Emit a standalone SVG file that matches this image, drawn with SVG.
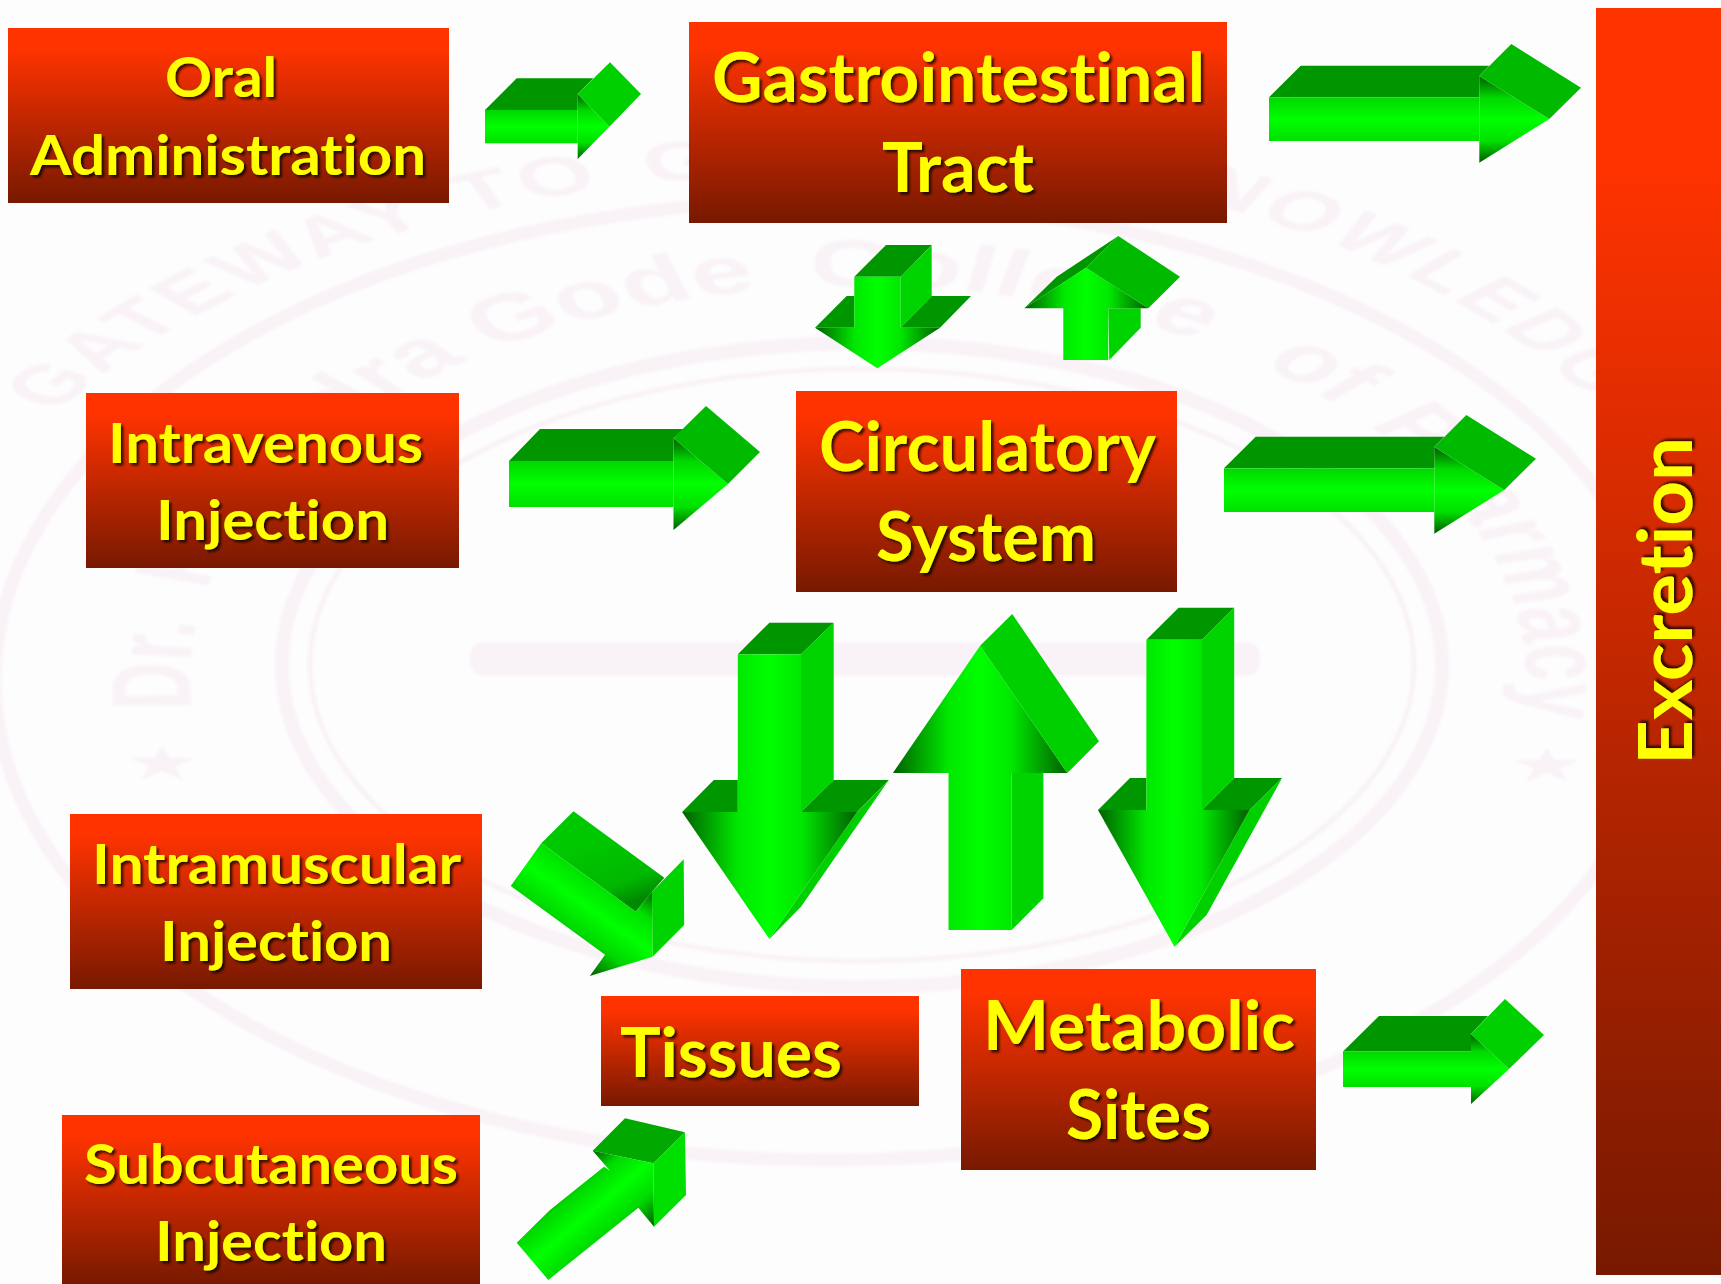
<svg xmlns="http://www.w3.org/2000/svg" width="1721" height="1284" viewBox="0 0 1721 1284">
<style>
.wm{fill:none;stroke:#f9f2f6}
.wt{fill:#f9f2f6;font-family:"Liberation Sans",sans-serif;font-weight:700}
.wo{font-size:55px;letter-spacing:3px}
.wi{font-size:66px}
.box{fill:url(#boxg)}
.t{fill:#ffff00;font-family:Lato,"Open Sans",sans-serif;font-weight:700;font-variant-ligatures:none;filter:url(#ts)}
.s{font-size:56px}
.b{font-size:68px}
.top{fill:#009600}
.ht{fill:#00ba00}
.ht2{fill:#00d000}
.sd{fill:#00d400}
.fh{fill:url(#fh)}
.hh{fill:url(#hh)}
.fv{fill:url(#fv)}
.hv{fill:url(#hv)}
</style>
<defs>
<linearGradient id="boxg" x1="0" y1="0" x2="0" y2="1"><stop offset="0.12" stop-color="#ff3300"/><stop offset="1" stop-color="#771900"/></linearGradient>
<linearGradient id="fh" x1="0" y1="0" x2="0" y2="1"><stop offset="0" stop-color="#00d800"/><stop offset="0.5" stop-color="#00ff00"/><stop offset="1" stop-color="#00e000"/></linearGradient>
<linearGradient id="hh" x1="0" y1="0" x2="0" y2="1"><stop offset="0" stop-color="#005c00"/><stop offset="0.25" stop-color="#00d800"/><stop offset="0.5" stop-color="#00ff00"/><stop offset="0.75" stop-color="#00e000"/><stop offset="1" stop-color="#005c00"/></linearGradient>
<linearGradient id="fv" x1="0" y1="0" x2="1" y2="0"><stop offset="0" stop-color="#00e800"/><stop offset="0.5" stop-color="#00ff00"/><stop offset="1" stop-color="#00e800"/></linearGradient>
<linearGradient id="hv" x1="0" y1="0" x2="1" y2="0"><stop offset="0" stop-color="#006000"/><stop offset="0.32" stop-color="#00e800"/><stop offset="0.5" stop-color="#00ff00"/><stop offset="0.68" stop-color="#00e800"/><stop offset="1" stop-color="#006000"/></linearGradient>
<linearGradient id="d1" gradientUnits="userSpaceOnUse" x1="554.2" y1="824" x2="494.5" y2="909.6"><stop offset="0" stop-color="#006c00"/><stop offset="0.22" stop-color="#00e000"/><stop offset="0.47" stop-color="#00ff00"/><stop offset="0.72" stop-color="#00d800"/><stop offset="1" stop-color="#005c00"/></linearGradient>
<linearGradient id="d1t" gradientUnits="userSpaceOnUse" x1="600" y1="835" x2="625" y2="905"><stop offset="0" stop-color="#00c800"/><stop offset="0.7" stop-color="#00b800"/><stop offset="1" stop-color="#008800"/></linearGradient>
<linearGradient id="d2" gradientUnits="userSpaceOnUse" x1="503" y1="1226.7" x2="566.3" y2="1301.3"><stop offset="0" stop-color="#005c00"/><stop offset="0.215" stop-color="#00d800"/><stop offset="0.465" stop-color="#00ff00"/><stop offset="0.715" stop-color="#00dc00"/><stop offset="1" stop-color="#005c00"/></linearGradient>
<filter id="ts" x="-10%" y="-20%" width="120%" height="140%"><feDropShadow dx="2.5" dy="2.5" stdDeviation="1.2" flood-color="#000000" flood-opacity="0.75"/></filter>
<filter id="blur" x="-5%" y="-5%" width="110%" height="110%"><feGaussianBlur stdDeviation="1.6"/></filter>
<path id="arcOuter" d="M -496 0 A 496 496 0 0 1 496 0"/>
<path id="arcInner" d="M -389 55 A 393 393 0 1 1 389 55"/>
</defs>
<rect width="1721" height="1284" fill="#fdfdfe"/>
<g id="watermark" filter="url(#blur)">
<ellipse class="wm" cx="830" cy="680" rx="835" ry="480" stroke-width="13"/>
<ellipse class="wm" cx="862" cy="665" rx="580" ry="322" stroke-width="14"/>
<ellipse class="wm" cx="862" cy="665" rx="552" ry="296" stroke-width="5"/>
<rect x="470" y="642" width="790" height="34" rx="14" fill="#f9f2f6"/>
<polygon fill="#f9f2f6" points="162,746 170,758 196,758 175,766 183,780 162,771 141,780 149,766 128,758 154,758"/>
<polygon fill="#f9f2f6" points="1547,748 1555,760 1581,760 1560,768 1568,782 1547,773 1526,782 1534,768 1513,760 1539,760"/>
<g transform="translate(820 670) scale(1.8 1)">
<text class="wt wo"><textPath href="#arcOuter" startOffset="270">GATEWAY</textPath></text>
<text class="wt wo"><textPath href="#arcOuter" startOffset="578">TO</textPath></text>
<text class="wt wo"><textPath href="#arcOuter" startOffset="683">GOOD</textPath></text>
</g>
<g transform="translate(820 650) scale(1.8 1)">
<text class="wt wo"><textPath href="#arcOuter" startOffset="945">KNOWLEDGE</textPath></text>
</g>
<g transform="translate(858 680) scale(1.7 1)">
<text class="wt wi"><textPath href="#arcInner" startOffset="26">Dr.</textPath></text>
<text class="wt wi"><textPath href="#arcInner" startOffset="146">Rajendra</textPath></text>
<text class="wt wi"><textPath href="#arcInner" startOffset="446">Gode</textPath></text>
<text class="wt wi"><textPath href="#arcInner" startOffset="645">College</textPath></text>
<text class="wt wi"><textPath href="#arcInner" startOffset="927">of</textPath></text>
<text class="wt wi"><textPath href="#arcInner" startOffset="1014">Pharmacy</textPath></text>
</g>
</g>
<g id="connectors">
<g id="arrow-oral-gi">
<polygon class="top" points="485,110 516.7,78.3 593.3,78.3 577.7,94 577.7,110"/>
<polygon class="hh" points="577.7,94 609.3,126.7 577.7,159"/>
<rect class="fh" x="485" y="110" width="92.7" height="33.3"/>
<polygon class="ht2" points="577.7,94 610,62.3 641,94 609.3,126.7"/>
</g>
<g id="arrow-gi-excretion">
<polygon class="top" points="1269,97.3 1300.7,65.7 1489.3,65.7 1479.3,76 1479.3,97.3"/>
<polygon class="hh" points="1479.3,76 1549.3,119 1479.3,162.7"/>
<rect class="fh" x="1269" y="97.3" width="210.3" height="43.7"/>
<polygon class="ht" points="1479.3,76 1511.3,44 1581,87.7 1549.3,119"/>
</g>
<g id="arrow-iv-circ">
<polygon class="top" points="509,461 540,429 684,429 673.5,438 673.5,461"/>
<polygon class="hh" points="673.5,438 728,484 673.5,530"/>
<rect class="fh" x="509" y="461" width="164.5" height="46"/>
<polygon class="ht" points="673.5,438 706,406 760,452 728,484"/>
</g>
<g id="arrow-circ-excretion" transform="translate(-45 371)">
<polygon class="top" points="1269,97.3 1300.7,65.7 1489.3,65.7 1479.3,76 1479.3,97.3"/>
<polygon class="hh" points="1479.3,76 1549.3,119 1479.3,162.7"/>
<rect class="fh" x="1269" y="97.3" width="210.3" height="43.7"/>
<polygon class="ht" points="1479.3,76 1511.3,44 1581,87.7 1549.3,119"/>
</g>
<g id="arrow-metabolic-excretion">
<polygon class="top" points="1343,1051.5 1379,1016 1488,1016 1471,1034 1471,1051.5"/>
<polygon class="hh" points="1471,1034 1509,1069 1471,1104"/>
<rect class="fh" x="1343" y="1051.5" width="128" height="35.5"/>
<polygon class="ht2" points="1471,1034 1505,999 1544,1035 1509,1069"/>
</g>
<g id="arrow-gi-circ">
<polygon class="top" points="854.3,276.7 886,245 931.7,245 900.7,276.7"/>
<polygon class="sd" points="900.7,276.7 931.7,245 931.7,296 900.7,327.7"/>
<polygon class="top" points="815,327.7 846.7,296 854.3,296 854.3,327.7"/>
<polygon class="top" points="900.7,327.7 931.7,296 971,296 940,327.7"/>
<polygon class="hv" points="815,327.7 940,327.7 877.3,368.3"/>
<rect class="fv" x="854.3" y="276.7" width="46.4" height="51.5"/>
</g>
<g id="arrow-circ-gi">
<polygon class="sd" points="1108.3,308.3 1140.7,308.3 1140.7,327.7 1109.3,360"/>
<polygon class="top" points="1024.3,308.3 1056.7,276.7 1118.3,236 1086,267.7"/>
<polygon class="hv" points="1024.3,308.3 1086,267.7 1148.3,308.3"/>
<rect class="fv" x="1063.3" y="307.8" width="45" height="52.2"/>
<polygon class="ht" points="1086,267.7 1118.3,236 1180,276.7 1148.3,308.3"/>
</g>
<g id="arrow-circ-tissues">
<polygon class="top" points="737.8,654.3 769.4,622.7 833.7,622.7 801,654.3"/>
<polygon class="sd" points="801,654.3 833.7,622.7 833.7,780 801,812"/>
<polygon class="top" points="682.1,812 713.8,780 737.8,780 737.8,812"/>
<polygon class="top" points="801,812 833.7,780 888.8,780 857.1,812"/>
<polygon class="ht2" points="857.1,812 888.8,780 801,906.7 769.4,939"/>
<polygon class="hv" points="682.1,812 857.1,812 769.4,939"/>
<rect class="fv" x="737.8" y="654.3" width="63.2" height="158.2"/>
</g>
<g id="arrow-tissues-circ">
<polygon class="sd" points="1011.7,773 1043.4,773 1043.4,898.3 1011.7,930"/>
<polygon class="hv" points="892.9,773 980.1,645.7 1067.3,773"/>
<rect class="fv" x="948.5" y="772.5" width="63.2" height="157.5"/>
<polygon class="ht2" points="980.1,645.7 1012.2,614 1099,741.3 1067.3,773"/>
</g>
<g id="arrow-circ-metabolic">
<polygon class="top" points="1146.4,639.7 1178.6,607.7 1234.2,607.7 1202,639.7"/>
<polygon class="sd" points="1202,639.7 1234.2,607.7 1234.2,778 1202,810"/>
<polygon class="top" points="1098,810 1130,778 1146.4,778 1146.4,810"/>
<polygon class="top" points="1202,810 1234.2,778 1282.1,778 1249.5,810"/>
<polygon class="ht2" points="1249.5,810 1282.1,778 1206.6,915 1174.5,946.7"/>
<polygon class="hv" points="1098,810 1249.5,810 1174.5,946.7"/>
<rect class="fv" x="1146.4" y="639.7" width="55.6" height="170.8"/>
</g>
<g id="arrow-im-tissues">
<polygon fill="url(#d1t)" points="541.3,843.3 573.5,811.3 664.3,877.7 652,891.7 635.7,911.7"/>
<polygon class="sd" points="652,891.7 683.7,859.3 684.2,925 652.6,956.7"/>
<polygon fill="url(#d1)" points="510.7,886 541.3,843.3 635.7,911.7 652,891.7 652.6,956.7 589.8,976 605.1,954.7"/>
</g>
<g id="arrow-sc-tissues">
<polygon fill="#00a800" points="592.7,1150.7 625,1118.3 685,1132.3 653.3,1163.3"/>
<polygon fill="#00e000" points="653.3,1163.3 685,1132.3 686,1195 654,1226.7"/>
<polygon fill="url(#d2)" points="516.7,1242.7 550,1210 604,1166.7 610,1170.7 592.7,1150.7 653.3,1163.3 654,1226.7 638.3,1207.7 548.3,1280"/>
</g>
</g>
<g id="node-oral"><rect class="box" x="8" y="28" width="441" height="175"/>
<text class="t s" x="165" y="97" textLength="112" lengthAdjust="spacingAndGlyphs">Oral</text>
<text class="t s" x="30" y="175" textLength="396" lengthAdjust="spacingAndGlyphs">Administration</text></g>
<g id="node-gi"><rect class="box" x="689" y="22" width="538" height="201"/>
<text class="t b" x="712" y="102" textLength="493" lengthAdjust="spacingAndGlyphs">Gastrointestinal</text>
<text class="t b" x="882" y="192" textLength="152" lengthAdjust="spacingAndGlyphs">Tract</text></g>
<g id="node-iv"><rect class="box" x="86" y="393" width="373" height="175"/>
<text class="t s" x="108" y="463" textLength="315" lengthAdjust="spacingAndGlyphs">Intravenous</text>
<text class="t s" x="156" y="540" textLength="233" lengthAdjust="spacingAndGlyphs">Injection</text></g>
<g id="node-circ"><rect class="box" x="796" y="391" width="381" height="201"/>
<text class="t b" x="819" y="471" textLength="337" lengthAdjust="spacingAndGlyphs">Circulatory</text>
<text class="t b" x="876" y="561" textLength="220" lengthAdjust="spacingAndGlyphs">System</text></g>
<g id="node-im"><rect class="box" x="70" y="814" width="412" height="175"/>
<text class="t s" x="92" y="884" textLength="369" lengthAdjust="spacingAndGlyphs">Intramuscular</text>
<text class="t s" x="160" y="961" textLength="232" lengthAdjust="spacingAndGlyphs">Injection</text></g>
<g id="node-tissues"><rect class="box" x="601" y="996" width="318" height="110"/>
<text class="t b" x="620" y="1077" textLength="222" lengthAdjust="spacingAndGlyphs">Tissues</text></g>
<g id="node-metabolic"><rect class="box" x="961" y="969" width="355" height="201"/>
<text class="t b" x="983" y="1050" textLength="312" lengthAdjust="spacingAndGlyphs">Metabolic</text>
<text class="t b" x="1066" y="1139" textLength="145" lengthAdjust="spacingAndGlyphs">Sites</text></g>
<g id="node-sc"><rect class="box" x="62" y="1115" width="418" height="169"/>
<text class="t s" x="84" y="1184" textLength="374" lengthAdjust="spacingAndGlyphs">Subcutaneous</text>
<text class="t s" x="155" y="1261" textLength="232" lengthAdjust="spacingAndGlyphs">Injection</text></g>
<g id="node-excretion"><rect class="box" x="1596" y="8" width="125" height="1267"/>
<text class="t b" transform="translate(1692 765) rotate(-90)" x="0" y="0" style="font-size:74px" textLength="328" lengthAdjust="spacingAndGlyphs">Excretion</text></g>
</svg>
